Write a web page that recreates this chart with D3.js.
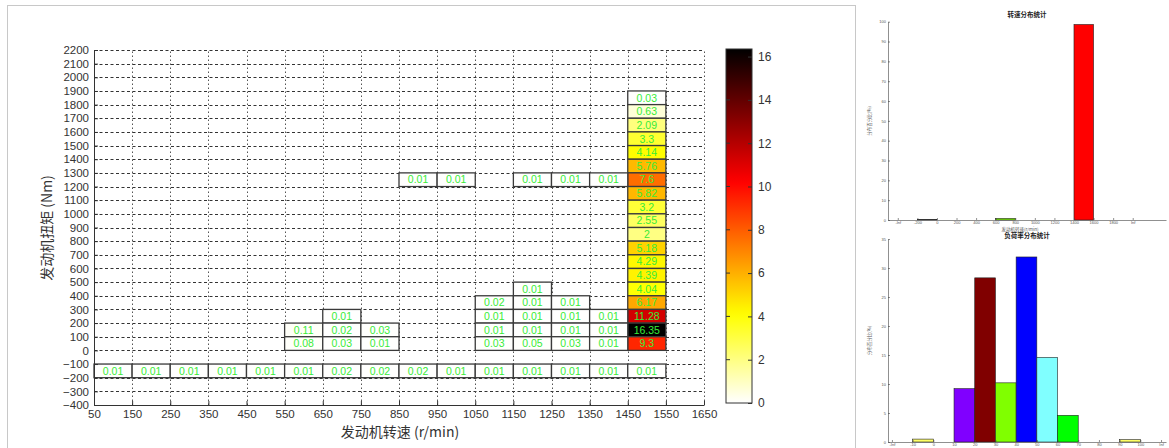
<!DOCTYPE html>
<html>
<head>
<meta charset="utf-8">
<script src="https://cdn.jsdelivr.net/npm/d3@7"></script>
<style>
  body { margin: 0; background: #fff; }
  svg { display: block; }
</style>
</head>
<body>
<div id="chart"></div>
<script>
// 转速区间下限 / 扭矩区间下限 / 百分比
const speedTicks = d3.range(50, 1651, 100);
const torqueTicks = d3.range(-400, 2201, 100);
const cells = [
  // 1450-1550 列
  [1450, 1800, 0.03], [1450, 1700, 0.63], [1450, 1600, 2.09], [1450, 1500, 3.3],
  [1450, 1400, 4.14], [1450, 1300, 5.76], [1450, 1200, 7.6], [1450, 1100, 5.82],
  [1450, 1000, 3.2], [1450, 900, 2.55], [1450, 800, 2], [1450, 700, 5.18],
  [1450, 600, 4.29], [1450, 500, 4.39], [1450, 400, 4.04], [1450, 300, 6.17],
  [1450, 200, 11.28], [1450, 100, 16.35], [1450, 0, 9.3],
  // 1200-1300 行
  [850, 1200, 0.01], [950, 1200, 0.01], [1150, 1200, 0.01], [1250, 1200, 0.01], [1350, 1200, 0.01],
  // 右下块
  [1150, 400, 0.01],
  [1050, 300, 0.02], [1150, 300, 0.01], [1250, 300, 0.01],
  [1050, 200, 0.01], [1150, 200, 0.01], [1250, 200, 0.01], [1350, 200, 0.01],
  [1050, 100, 0.01], [1150, 100, 0.01], [1250, 100, 0.01], [1350, 100, 0.01],
  [1050, 0, 0.03], [1150, 0, 0.05], [1250, 0, 0.03], [1350, 0, 0.01],
  // 左下块
  [650, 200, 0.01],
  [550, 100, 0.11], [650, 100, 0.02], [750, 100, 0.03],
  [550, 0, 0.08], [650, 0, 0.03], [750, 0, 0.01],
  // -200 ~ -100 行
  [50, -200, 0.01], [150, -200, 0.01], [250, -200, 0.01], [350, -200, 0.01], [450, -200, 0.01],
  [550, -200, 0.01], [650, -200, 0.02], [750, -200, 0.02], [850, -200, 0.02], [950, -200, 0.01],
  [1050, -200, 0.01], [1150, -200, 0.01], [1250, -200, 0.01], [1350, -200, 0.01], [1450, -200, 0.01]
];
const colorMax = 16.35;
const colorTicks = d3.range(0, 17, 2);

// 转速分布统计
const speedBinLabels = ["-Inf", "-200", "0", "200", "400", "600", "800", "1000", "1200", "1400", "1600", "1800", "Inf"];
const speedBarBins = [1, 5, 9];
const speedBarValues = [0.3, 0.8, 98.6];
const speedBarColors = ["#c8c8c8", "#80ff00", "#ff0000"];
const speedPctTicks = d3.range(0, 101, 10);

// 负荷率分布统计
const loadBinLabels = ["-Inf", "-10", "0", "10", "20", "30", "40", "50", "60", "70", "80", "90", "100", "Inf"];
const loadBarBins = [1, 3, 4, 5, 6, 7, 8, 11];
const loadBarValues = [0.5, 9.2, 28.3, 10.2, 31.9, 14.6, 4.6, 0.4];
const loadBarColors = ["#ffff66", "#8000ff", "#800000", "#80ff00", "#0000ff", "#80ffff", "#00ff00", "#ffff66"];
const loadPctTicks = d3.range(0, 36, 5);

const W = 1169, H = 448;
const svg = d3.select("#chart").append("svg").attr("width", W).attr("height", H);

// 左侧面板边框
svg.append("rect").attr("x", 7.5).attr("y", 5.5).attr("width", 848).attr("height", 460)
  .attr("fill", "none").attr("stroke", "#c8c8c8");

// 反转的 hot 色图
function hotr(v) {
  const s = 1 - Math.min(v, colorMax) / colorMax;
  const c = t => Math.max(0, Math.min(1, t));
  const r = c(s / 0.375), g = c((s - 0.375) / 0.375), b = c((s - 0.75) / 0.25);
  return d3.rgb(r * 255, g * 255, b * 255);
}

const x = d3.scaleLinear().domain([50, 1650]).range([94, 704]);
const y = d3.scaleLinear().domain([-400, 2200]).range([405, 50]);

const main = svg.append("g");

// 网格
main.append("g").selectAll("line").data(torqueTicks.slice(1)).join("line")
  .attr("x1", x(50)).attr("x2", x(1650))
  .attr("y1", d => Math.round(y(d)) + 0.5).attr("y2", d => Math.round(y(d)) + 0.5)
  .attr("stroke", "#333").attr("stroke-dasharray", "3,2.5");
main.append("g").selectAll("line").data(speedTicks.slice(1)).join("line")
  .attr("y1", y(-400)).attr("y2", y(2200))
  .attr("x1", d => Math.round(x(d)) + 0.5).attr("x2", d => Math.round(x(d)) + 0.5)
  .attr("stroke", "#555").attr("stroke-dasharray", "1.5,2.5");

// 单元格
main.append("g").selectAll("rect").data(cells).join("rect")
  .attr("x", d => x(d[0])).attr("y", d => y(d[1] + 100))
  .attr("width", d => x(d[0] + 100) - x(d[0]))
  .attr("height", d => y(d[1]) - y(d[1] + 100))
  .attr("fill", d => hotr(d[2]))
  .attr("stroke", "#3a3a3a").attr("stroke-width", 1.3);

main.append("g").selectAll("text").data(cells).join("text")
  .attr("x", d => x(d[0] + 50)).attr("y", d => y(d[1] + 50))
  .attr("dy", "0.36em").attr("text-anchor", "middle")
  .attr("font-family", "Liberation Sans, Arial, sans-serif").attr("font-size", 10.5)
  .attr("fill", "#38ec38")
  .text(d => d[2]);

// 坐标轴
const axFont = "Liberation Sans, Arial, sans-serif";
const xAxis = main.append("g").attr("transform", `translate(0,${y(-400)})`)
  .call(d3.axisBottom(x).tickValues(speedTicks).tickFormat(d3.format("d"))
    .tickSizeInner(-4).tickSizeOuter(0).tickPadding(5));
const yAxis = main.append("g").attr("transform", `translate(${x(50)},0)`)
  .call(d3.axisLeft(y).tickValues(torqueTicks).tickFormat(d3.format("d"))
    .tickSizeInner(-4).tickSizeOuter(0).tickPadding(5));
[xAxis, yAxis].forEach(a => {
  a.selectAll("text").attr("font-family", axFont).attr("font-size", 11.5).attr("fill", "#333");
  a.selectAll("line, path").attr("stroke", "#333");
});

main.append("text").attr("x", 400).attr("y", 437).attr("text-anchor", "middle")
  .attr("font-family", "Noto Sans CJK SC, sans-serif").attr("font-size", 14).attr("fill", "#333")
  .text("发动机转速 (r/min)");
main.append("text").attr("transform", "translate(52,228) rotate(-90)").attr("text-anchor", "middle")
  .attr("font-family", "Noto Sans CJK SC, sans-serif").attr("font-size", 14).attr("fill", "#333")
  .text("发动机扭矩 (Nm)");

// 色条
const cbY = d3.scaleLinear().domain([0, colorMax]).range([403, 49]);
const grad = svg.append("defs").append("linearGradient").attr("id", "cb")
  .attr("x1", 0).attr("x2", 0).attr("y1", 1).attr("y2", 0);
d3.range(0, 1.0001, 0.02).forEach(t => {
  grad.append("stop").attr("offset", t).attr("stop-color", hotr(t * colorMax));
});
const cbX0 = 726, cbX1 = 752;
svg.append("rect").attr("x", cbX0).attr("y", cbY(colorMax)).attr("width", cbX1 - cbX0)
  .attr("height", cbY(0) - cbY(colorMax)).attr("fill", "url(#cb)")
  .attr("stroke", "#333");
const cbAxis = svg.append("g").attr("transform", `translate(${cbX1},0)`)
  .call(d3.axisRight(cbY).tickValues(colorTicks).tickSizeInner(-4).tickSizeOuter(0).tickPadding(6));
cbAxis.select("path").remove();
cbAxis.selectAll("text").attr("font-family", axFont).attr("font-size", 12).attr("fill", "#333");
cbAxis.selectAll("line").attr("stroke", "#333");
svg.append("g").selectAll("line").data(colorTicks.slice(1, -1)).join("line")
  .attr("x1", cbX0).attr("x2", cbX0 + 4).attr("y1", d => cbY(d)).attr("y2", d => cbY(d))
  .attr("stroke", "#333");

// 小图
function miniChart(opt) {
  const g = svg.append("g");
  const sx = d3.scaleLinear().domain(opt.xDomain).range([888, 1166]);
  const sy = d3.scaleLinear().domain([0, opt.yMax]).range(opt.yRange);
  g.selectAll("rect").data(opt.bins).join("rect")
    .attr("x", d => sx(d)).attr("width", d => sx(d + 1) - sx(d))
    .attr("y", (d, i) => sy(opt.values[i]))
    .attr("height", (d, i) => sy(0) - sy(opt.values[i]))
    .attr("fill", (d, i) => opt.colors[i]).attr("stroke", "#222").attr("stroke-width", 0.6);
  const ax = g.append("g").attr("transform", `translate(0,${sy(0)})`)
    .call(d3.axisBottom(sx).tickValues(d3.range(opt.labels.length))
      .tickFormat(i => opt.labels[i]).tickSizeInner(-2).tickSizeOuter(0).tickPadding(1.5));
  const ay = g.append("g").attr("transform", `translate(888,0)`)
    .call(d3.axisLeft(sy).tickValues(opt.yTicks).tickSizeInner(-2).tickSizeOuter(0).tickPadding(2));
  [ax, ay].forEach(a => {
    a.selectAll("text").attr("font-family", axFont).attr("font-size", 4).attr("fill", "#555");
    a.selectAll("line, path").attr("stroke", "#444").attr("stroke-width", 0.6);
  });
  g.append("text").attr("x", 1027).attr("y", opt.titleY).attr("text-anchor", "middle")
    .attr("font-family", "Noto Sans CJK SC, sans-serif").attr("font-size", 6.5).attr("font-weight", "bold")
    .attr("fill", "#222").text(opt.title);
  g.append("text").attr("transform", `translate(871,${(opt.yRange[0] + opt.yRange[1]) / 2}) rotate(-90)`)
    .attr("text-anchor", "middle").attr("font-family", "Noto Sans CJK SC, sans-serif")
    .attr("font-size", 4.5).attr("fill", "#555").text("分布百分比(%)");
  if (opt.xTitle) {
    g.append("text").attr("x", 1020).attr("y", sy(0) + 10.5).attr("text-anchor", "middle")
      .attr("font-family", "Noto Sans CJK SC, sans-serif").attr("font-size", 4.5).attr("fill", "#555")
      .text(opt.xTitle);
  }
}

miniChart({
  xDomain: [-0.5, 13.7], yMax: 100, yRange: [220, 21.7],
  bins: speedBarBins, values: speedBarValues, colors: speedBarColors,
  labels: speedBinLabels, yTicks: speedPctTicks,
  title: "转速分布统计", titleY: 17, xTitle: "发动机转速(r/min)"
});
miniChart({
  xDomain: [-0.19, 13.24], yMax: 35, yRange: [442, 239],
  bins: loadBarBins, values: loadBarValues, colors: loadBarColors,
  labels: loadBinLabels, yTicks: loadPctTicks,
  title: "负荷率分布统计", titleY: 238
});
</script>
</body>
</html>
